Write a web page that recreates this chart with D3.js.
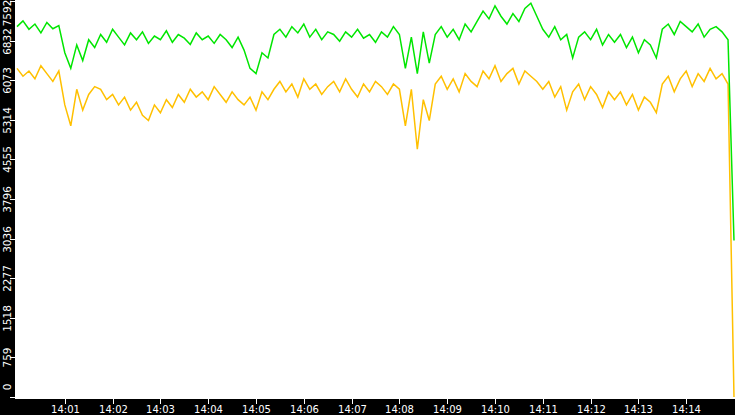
<!DOCTYPE html>
<html><head><meta charset="utf-8">
<script src="https://cdn.jsdelivr.net/npm/d3@7"></script>
<style>body{margin:0;background:#fff}svg{display:block}</style>
</head><body>
<div id="chart"></div>
<script>
// sampled every 7.5 s from 14:00:00 to 14:15:00
let green = [
7100,7210,7050,7150,6980,7180,7060,7120,
6600,6300,6750,6450,6850,6700,
6950,6800,7050,6900,6750,6980,6850,7000,6780,6920,6850,7020,6800,6950,6880,6760,6980,6850,6920,6780,6950,6850,6700,6900,
6650,6300,6200,6600,6500,
6950,7050,6900,7100,6980,7150,6900,7050,6850,7000,6950,6820,7000,6900,7050,6880,6950,6800,7000,6900,7100,6950,
6300,6900,6200,7000,6400,
6950,7100,6900,7050,6850,7150,7000,7200,
7400,7250,7500,7300,7150,7350,7200,7450,7550,7300,
7050,6900,7100,6850,6950,6500,6900,7000,6850,7050,6750,6950,
6800,6950,6700,6900,6600,6850,6750,6500,
7050,7150,6950,7200,7100,7000,7150,6900,7050,7100,7000,6850,
3000
];
let yellow = [
6300,6150,6250,6100,6350,6200,6050,6250,
5600,5200,5900,5500,5800,5950,
5900,5700,5800,5600,5750,5500,5650,5400,5300,5600,5450,5700,5550,5800,5650,5900,5750,5850,5700,5950,5800,5650,5850,5700,
5600,5750,5500,5850,5700,
5900,6050,5850,6000,5750,6100,5900,6000,5800,5950,6050,5850,6100,5900,5750,6000,5850,6050,5950,5800,6000,5900,
5200,5900,4750,5700,5300,
6000,6150,5900,6100,5850,6200,6050,5950,
6250,6100,6350,6050,6200,6300,6000,6250,6150,6050,
5900,6050,5750,5950,5500,5850,6000,5700,5950,5800,5550,5850,
5700,5850,5600,5800,5500,5750,5650,5450,
6000,6150,5850,6100,6250,5950,6200,6050,6300,6100,6200,6000,
0
];
let yTicks = [0,759,1518,2277,3036,3796,4555,5314,6073,6832,7592];
let xTickLabels = ["14:01","14:02","14:03","14:04","14:05","14:06","14:07","14:08","14:09","14:10","14:11","14:12","14:13","14:14"];

let w = 735, h = 415;
let left = 15, bottom = 399;
let t0 = new Date(2020,0,1,14,0,0);
function timeAt(i){ return new Date(t0.getTime() + i*7500); }

let svg = d3.select("#chart").append("svg").attr("width", w).attr("height", h);
svg.append("rect").attr("width", w).attr("height", h).attr("fill", "white");

let xScale = d3.scaleTime().domain([t0, new Date(2020,0,1,14,15,0)]).range([left+2, w-1]);
let yScale = d3.scaleLinear().domain([0,7592]).range([397, 1]);

let line = d3.line()
  .x(function(d,i){ return xScale(timeAt(i)); })
  .y(function(d){ return yScale(d); });

svg.append("path").datum(yellow).attr("d", line)
  .attr("fill","none").attr("stroke","#ffc000").attr("stroke-width",1.5);
svg.append("path").datum(green).attr("d", line)
  .attr("fill","none").attr("stroke","#00e600").attr("stroke-width",1.5);

// black frames
svg.append("rect").attr("x",0).attr("y",0).attr("width",left).attr("height",h).attr("fill","black");
svg.append("rect").attr("x",0).attr("y",bottom).attr("width",w).attr("height",h-bottom).attr("fill","black");

// x axis
xTickLabels.forEach(function(lab){
  let p = lab.split(":");
  let x = Math.round(xScale(new Date(2020,0,1,+p[0],+p[1],0))) + 0.5;
  svg.append("line").attr("x1",x).attr("x2",x).attr("y1",bottom).attr("y2",bottom+5)
    .attr("stroke","white");
  svg.append("text").attr("x",x).attr("y",413).attr("text-anchor","middle")
    .attr("fill","white").attr("font-family","DejaVu Sans").attr("font-size",10).text(lab);
});

// y axis
yTicks.forEach(function(v){
  let y = Math.round(yScale(v)) + 0.5;
  svg.append("line").attr("x1",10).attr("x2",left).attr("y1",y).attr("y2",y).attr("stroke","white");
  let cy = Math.max(13, Math.min(387, y));
  svg.append("text").attr("transform","translate(11," + cy + ") rotate(-90)")
    .attr("text-anchor","middle").attr("fill","white")
    .attr("font-family","DejaVu Sans").attr("font-size",10.5).text(v);
});
</script>
</body></html>
